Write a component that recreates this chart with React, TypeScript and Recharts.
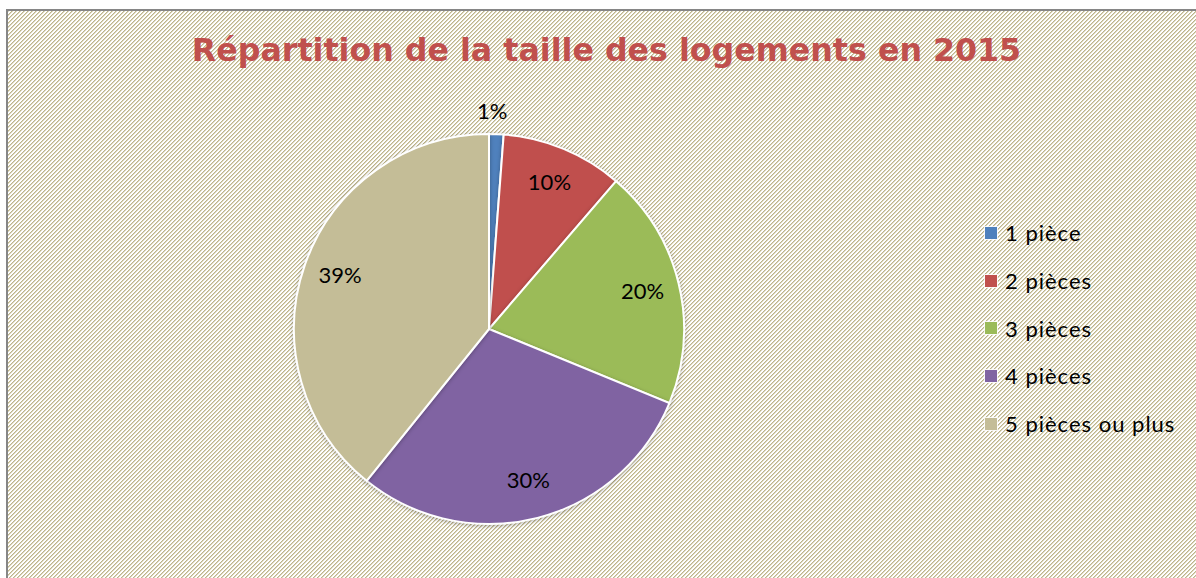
import React from "react";
import { PieChart, Pie, Cell } from "recharts";

const categories = ["1 pièce", "2 pièces", "3 pièces", "4 pièces", "5 pièces ou plus"];
const shares = [1.2, 10.1, 19.9, 29.6, 39.2];
const colors = ["#4F81BD", "#C0504D", "#9BBB59", "#8064A2", "#C4BD97"];
const title = "Répartition de la taille des logements en 2015";

const data = categories.map((name, i) => ({ name, value: shares[i] }));
const total = shares.reduce((a, b) => a + b, 0);

const patternSvg =
  "<svg xmlns='http://www.w3.org/2000/svg' width='4' height='4' shape-rendering='crispEdges'>" +
  "<rect width='4' height='4' fill='#ffffff'/>" +
  "<rect x='3' y='0' width='1' height='1' fill='#BDB48A'/><rect x='2' y='1' width='1' height='1' fill='#BDB48A'/>" +
  "<rect x='1' y='2' width='1' height='1' fill='#BDB48A'/><rect x='0' y='3' width='1' height='1' fill='#BDB48A'/>" +
  "<rect x='0' y='0' width='1' height='1' fill='#DCD7BE'/><rect x='3' y='1' width='1' height='1' fill='#DCD7BE'/>" +
  "<rect x='2' y='2' width='1' height='1' fill='#DCD7BE'/><rect x='1' y='3' width='1' height='1' fill='#DCD7BE'/>" +
  "</svg>";
const patternUrl = `url("data:image/svg+xml;utf8,${encodeURIComponent(patternSvg)}")`;

const RAD = Math.PI / 180;

const renderLabel = (props: any) => {
  const { cx, cy, midAngle, outerRadius, index, value } = props;
  const r = index === 0 ? outerRadius + 22 : outerRadius * 0.81;
  const x = cx + r * Math.cos(-midAngle * RAD);
  const y = cy + r * Math.sin(-midAngle * RAD);
  return (
    <text
      x={index === 0 ? x - 5 : x}
      y={y - 2}
      textAnchor="middle"
      dominantBaseline="central"
      fontFamily="Lato, 'Open Sans', sans-serif"
      fontSize={22}
      fill="#000"
    >
      {Math.round((value / total) * 100)}%
    </text>
  );
};

export default function App() {
  return (
    <div style={{ position: "absolute", left: 0, top: 0, width: 1196, height: 578, overflow: "hidden", background: "#fff" }}>
      <div
        style={{
          position: "absolute",
          left: 6,
          top: 9,
          width: 1300,
          height: 700,
          border: "2px solid #868686",
          backgroundImage: patternUrl,
          backgroundRepeat: "repeat",
        }}
      />
      <div
        style={{
          position: "absolute",
          left: 0,
          top: 29,
          width: 1213,
          textAlign: "center",
          fontFamily: "'DejaVu Sans', Verdana, sans-serif",
          fontWeight: "bold",
          fontSize: 31.7,
          color: "#C0504D",
          lineHeight: "42px",
          whiteSpace: "nowrap",
        }}
      >
        {title}
      </div>
      <div style={{ position: "absolute", left: 0, top: 0 }}>
        <PieChart width={1196} height={578} margin={{ top: 0, right: 0, bottom: 0, left: 0 }}>
          <defs>
            <filter id="pieShadow" x="-10%" y="-10%" width="120%" height="120%">
              <feDropShadow dx="0" dy="1" stdDeviation="2" floodColor="#000" floodOpacity="0.3" />
            </filter>
          </defs>
          <Pie
            data={data}
            dataKey="value"
            nameKey="name"
            cx={489}
            cy={329}
            outerRadius={195}
            startAngle={90}
            endAngle={-270}
            stroke="#ffffff"
            strokeWidth={2}
            label={renderLabel}
            labelLine={false}
            isAnimationActive={false}
            style={{ filter: "url(#pieShadow)" }}
          >
            {data.map((d, i) => (
              <Cell key={d.name} fill={colors[i]} />
            ))}
          </Pie>
        </PieChart>
      </div>
      <div style={{ position: "absolute", left: 985, top: 209 }}>
        {categories.map((c, i) => (
          <div key={c} style={{ display: "flex", alignItems: "center", height: 47.7 }}>
            <div style={{ width: 12, height: 12, background: colors[i], boxShadow: "0 0 0 1px rgba(255,255,255,0.8)" }} />
            <span
              style={{
                marginLeft: 8,
                fontFamily: "Lato, 'Open Sans', sans-serif",
                fontSize: 22,
                letterSpacing: 1,
                color: "#000",
                whiteSpace: "nowrap",
              }}
            >
              {c}
            </span>
          </div>
        ))}
      </div>
    </div>
  );
}
